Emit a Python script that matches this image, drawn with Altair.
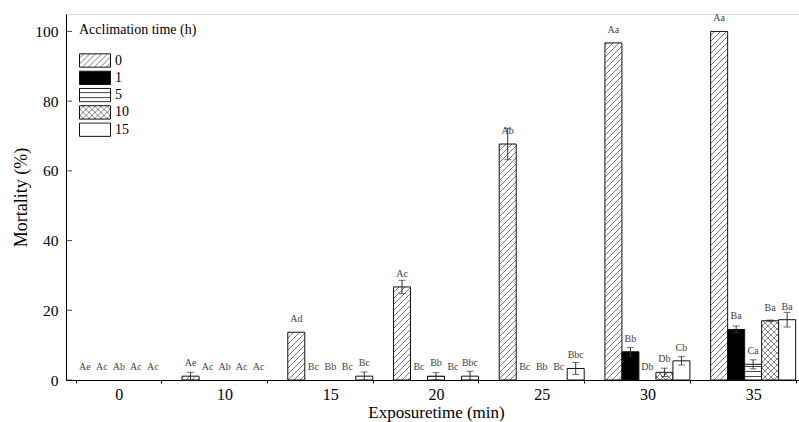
import altair as alt
import pandas as pd
import jinja2
import altair.utils.html as ahtml

# ---------------- data ----------------
exposure = ["0", "10", "15", "20", "25", "30", "35"]
acclimation = ["0", "1", "5", "10", "15"]

mort_0h = [0, 1.1, 13.7, 26.7, 67.7, 96.7, 100.0]
mort_1h = [0, 0, 0, 0, 0, 8.1, 14.5]
mort_5h = [0, 0, 0, 1.1, 0, 0, 4.5]
mort_10h = [0, 0, 0, 0, 0, 2.2, 17.0]
mort_15h = [0, 0, 1.1, 1.1, 3.3, 5.5, 17.3]

err_0h = [0, 1.1, 0, 1.9, 4.5, 0, 0]
err_1h = [0, 0, 0, 0, 0, 1.2, 1.0]
err_5h = [0, 0, 0, 1.0, 0, 0, 1.3]
err_10h = [0, 0, 0, 0, 0, 1.2, 0.2]
err_15h = [0, 0, 1.2, 1.4, 1.7, 1.2, 2.1]

lab_0h = ["Ae", "Ae", "Ad", "Ac", "Ab", "Aa", "Aa"]
lab_1h = ["Ac", "Ac", "Bc", "Bc", "Bc", "Bb", "Ba"]
lab_5h = ["Ab", "Ab", "Bb", "Bb", "Bb", "Db", "Ca"]
lab_10h = ["Ac", "Ac", "Bc", "Bc", "Bc", "Db", "Ba"]
lab_15h = ["Ac", "Ac", "Bc", "Bbc", "Bbc", "Cb", "Ba"]

y_ticks = [0, 20, 40, 60, 80, 100]

means = [mort_0h, mort_1h, mort_5h, mort_10h, mort_15h]
errs = [err_0h, err_1h, err_5h, err_10h, err_15h]
labs = [lab_0h, lab_1h, lab_5h, lab_10h, lab_15h]

rows = []
for a, m, e, l in zip(acclimation, means, errs, labs):
    for i, x in enumerate(exposure):
        rows.append({"exp": x, "acc": a, "mean": m[i], "err": e[i], "lab": l[i],
                     "lo": max(m[i] - e[i], 0), "hi": m[i] + e[i]})
df = pd.DataFrame(rows)
df_bars = df[df["mean"] > 0]
df_err = df[df["err"] > 0]
df_ticks = pd.DataFrame({"v": y_ticks})

fills = ["url(#hatchDiag)", "#000000", "url(#hatchHoriz)", "url(#hatchCross)", "#ffffff"]

FONT = "Liberation Serif"

x_enc = alt.X("exp:N", sort=exposure, scale=alt.Scale(domain=exposure, range=[0, 740],
                                                      paddingInner=0.196, paddingOuter=0.098),
              axis=alt.Axis(title="Exposuretime (min)", labelAngle=0, tickBand="extent", tickSize=3,
                            labelFontSize=16, titleFontSize=17, labelPadding=3, titlePadding=2,
                            domainColor="black", tickColor="black", labelColor="black",
                            titleColor="black", titleFontWeight="normal"))
xo_enc = alt.XOffset("acc:N", sort=acclimation,
                     scale=alt.Scale(domain=acclimation, paddingInner=0, paddingOuter=0))
y_scale = alt.Scale(domain=[0, 105], nice=False, zero=True)

bars = alt.Chart(df_bars).mark_bar(stroke="#111", strokeWidth=1).encode(
    x=x_enc,
    xOffset=xo_enc,
    y=alt.Y("mean:Q", scale=y_scale,
            axis=alt.Axis(title="Mortality (%)", values=y_ticks, tickSize=0, labelPadding=8,
                          labelFontSize=15.5, titleFontSize=18, titlePadding=4, grid=False,
                          domainColor="black", labelColor="black", titleColor="black",
                          titleFontWeight="normal")),
    fill=alt.Fill("acc:N", sort=acclimation,
                  scale=alt.Scale(domain=acclimation, range=fills),
                  legend=alt.Legend(title="Acclimation time (h)", orient="none", legendX=13, legendY=9,
                                    symbolType="M-1,-0.43H1V0.43H-1Z", symbolSize=961,
                                    symbolStrokeColor="#111", symbolStrokeWidth=1, clipHeight=15,
                                    rowPadding=2.3, labelOffset=4, titlePadding=16, padding=0,
                                    labelFontSize=14, titleFontSize=14, titleFontWeight="normal",
                                    labelColor="black", titleColor="black")),
)

err_rule = alt.Chart(df_err).mark_rule(color="#333", strokeWidth=1).encode(
    x=alt.X("exp:N", sort=exposure), xOffset=alt.XOffset("acc:N", sort=acclimation),
    y=alt.Y("lo:Q"), y2="hi:Q")
cap_hi = alt.Chart(df_err).mark_tick(color="#333", orient="horizontal", size=7, thickness=1).encode(
    x=alt.X("exp:N", sort=exposure), xOffset=alt.XOffset("acc:N", sort=acclimation),
    y=alt.Y("hi:Q"))
cap_lo = alt.Chart(df_err).mark_tick(color="#333", orient="horizontal", size=7, thickness=1).encode(
    x=alt.X("exp:N", sort=exposure), xOffset=alt.XOffset("acc:N", sort=acclimation),
    y=alt.Y("lo:Q"))

labels = alt.Chart(df).mark_text(fontSize=10, color="#444", dy=-13, baseline="middle", font=FONT).encode(
    x=alt.X("exp:N", sort=exposure), xOffset=alt.XOffset("acc:N", sort=acclimation),
    y=alt.Y("mean:Q"), text="lab:N")

yticks = alt.Chart(df_ticks).mark_tick(color="black", orient="horizontal", size=6, thickness=1).encode(
    y=alt.Y("v:Q"), x=alt.value(3))

chart = alt.layer(bars, err_rule, cap_hi, cap_lo, labels, yticks).properties(
    width=733, height=366,
    padding={"left": 66, "top": 14, "right": 0, "bottom": 42},
    autosize=alt.AutoSizeParams(type="none"),
    background="white",
).configure_view(stroke=None).configure(font=FONT)

# ---------- page template with SVG hatch patterns ----------
DEFS = """
<svg width="0" height="0" style="position:absolute">
  <defs>
    <pattern id="hatchDiag" patternUnits="userSpaceOnUse" width="6" height="6">
      <rect width="6" height="6" fill="white"/>
      <path d="M-1,1 l2,-2 M0,6 l6,-6 M5,7 l2,-2" stroke="#555" stroke-width="0.8"/>
    </pattern>
    <pattern id="hatchHoriz" patternUnits="userSpaceOnUse" width="6" height="5">
      <rect width="6" height="5" fill="white"/>
      <path d="M0,2.5 H6" stroke="#333" stroke-width="0.9"/>
    </pattern>
    <pattern id="hatchCross" patternUnits="userSpaceOnUse" width="6" height="6">
      <rect width="6" height="6" fill="white"/>
      <path d="M-1,1 l2,-2 M0,6 l6,-6 M5,7 l2,-2 M-1,5 l2,2 M0,0 l6,6 M5,-1 l2,2" stroke="#555" stroke-width="0.7"/>
    </pattern>
  </defs>
</svg>
"""

TEMPLATE = jinja2.Template("""<!DOCTYPE html>
<html>
<head>
  <style>
    #{{ output_div }}.vega-embed {
      width: 100%;
      display: flex;
    }
    #{{ output_div }}.vega-embed details,
    #{{ output_div }}.vega-embed details summary {
      position: relative;
    }
  </style>
  <script type="text/javascript" src="{{ base_url }}/vega@{{ vega_version }}"></script>
  <script type="text/javascript" src="{{ base_url }}/vega-lite@{{ vegalite_version }}"></script>
  <script type="text/javascript" src="{{ base_url }}/vega-embed@{{ vegaembed_version }}"></script>
</head>
<body>
""" + DEFS + """
  <div id="{{ output_div }}"></div>
  <script>
    var spec = {{ spec }};
    var embedOpt = {{ embed_options }};
    function showError(el, error){
        el.innerHTML = ('<div style="color:red;"><p>JavaScript Error: ' + error.message + '</p></div>');
        throw error;
    }
    const el = document.getElementById('{{ output_div }}');
    vegaEmbed("#{{ output_div }}", spec, embedOpt)
      .catch(error => showError(el, error));
  </script>
</body>
</html>""")
ahtml.TEMPLATES["standard"] = TEMPLATE

chart.save("out.html", embed_options={"renderer": "svg", "actions": False})
